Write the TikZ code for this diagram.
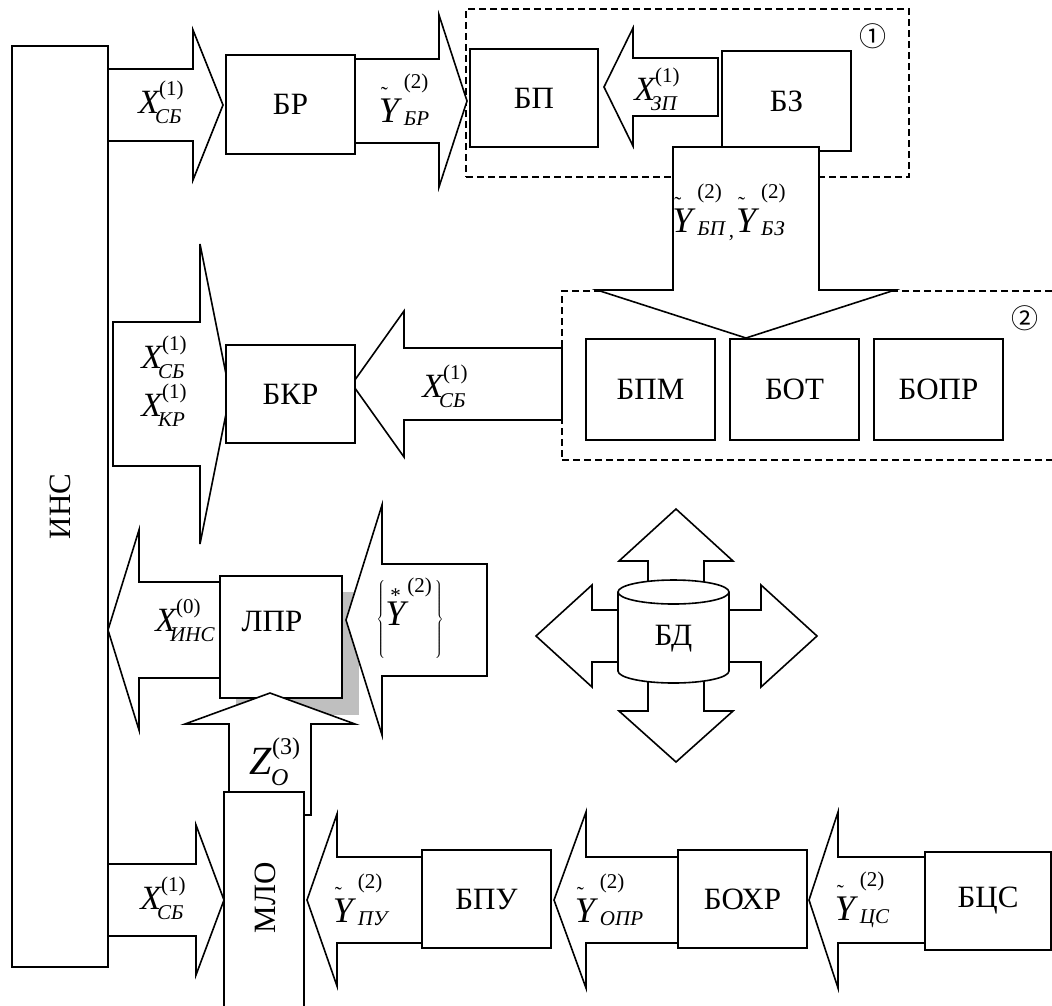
\documentclass[tikz,border=0pt]{standalone}
\usepackage{fontspec}
\setmainfont{Liberation Serif}
\newfontfamily\cjk{Noto Sans CJK SC}
\newcommand\mainfs{\fontsize{31}{37}\selectfont}
\newcommand\scr{\fontsize{21}{21}\selectfont}
% #1 raise of sup, #2 sup, #3 drop of sub, #4 kern of sub, #5 sub
\newcommand\SupSub[5]{{\setbox0\hbox{\raisebox{#1}{\upshape #2}}\setbox2\hbox{\kern#4\raisebox{-#3}{\itshape #5}}\ifdim\wd0>\wd2 \rlap{\box2}\box0\else\rlap{\box0}\box2\fi}}
\newcommand\XL[4]{\hbox{\fontsize{34}{34}\selectfont\itshape #1\scr\SupSub{18pt}{(#2)}{10pt}{#4}{#3}}}
\newcommand\YL[1]{\hbox{\fontsize{36}{36}\selectfont\itshape\rlap{\kern2pt\raisebox{21pt}{\scr\upshape ˜}}Y\kern5pt\scr\SupSub{34pt}{(2)}{3pt}{0pt}{#1}}}
\newcommand\HArrow[6]{\draw[blk] ({#1},{#4-#5}) -- ({#2},{#4-#5}) -- ({#2},{#4-#6}) -- ({#3},{#4}) -- ({#2},{#4+#6}) -- ({#2},{#4+#5}) -- ({#1},{#4+#5}) -- cycle;}
\newcommand\VArrow[6]{\draw[blk] ({#4-#5},{#1}) -- ({#4-#5},{#2}) -- ({#4-#6},{#2}) -- ({#4},{#3}) -- ({#4+#6},{#2}) -- ({#4+#5},{#2}) -- ({#4+#5},{#1}) -- cycle;}
\tikzset{
  blk/.style={draw, fill=white, line width=1.6pt},
  box/.style={draw, fill=white, line width=1.6pt, inner sep=0pt, outer sep=0pt, font=\mainfs},
  dbox/.style={draw, dash pattern=on 7pt off 4pt, line width=1.4pt, inner sep=0pt, outer sep=0pt},
  lbl/.style={inner sep=0pt, outer sep=0pt},
  txt/.style={inner sep=0pt, outer sep=0pt, font=\mainfs},
  circnum/.style={inner sep=0pt, outer sep=0pt, font=\cjk\fontsize{27}{27}\selectfont},
}
\begin{document}
\begin{tikzpicture}[x=1pt,y=-1pt]
\useasboundingbox (0,0) rectangle (1052,1005);
% ИНС
\node[box, minimum width=96pt, minimum height=921pt] (ins) at (60,506.5) {};
\node[txt, rotate=90] (inst) at (60,506.5) {ИНС};
% dashed groups
\node[dbox, minimum width=443pt, minimum height=168pt] (g1) at (687.5,93) {};
\node[dbox, minimum width=518pt, minimum height=169pt] (g2) at (821,375.5) {};
\node[circnum] (n1) at (873,36) {①};
\node[circnum] (n2) at (1025,318) {②};
% top row
\HArrow{108}{193}{223}{105}{36}{75}
\HArrow{355}{439}{467}{101}{42}{86}
\node[box, minimum width=129pt, minimum height=99pt] (br) at (290.5,104.5) {БР};
\node[box, minimum width=128pt, minimum height=98pt] (bp) at (534,98) {БП};
\HArrow{718}{633}{604}{87}{29}{59}
\node[box, minimum width=129pt, minimum height=100pt] (bz) at (786.5,101) {БЗ};
\VArrow{147}{290}{338}{746}{73}{149}
% middle row
\node[box, minimum width=129pt, minimum height=101pt] (bpm) at (650.5,389.5) {БПМ};
\node[box, minimum width=129pt, minimum height=101pt] (bot) at (794.5,389.5) {БОТ};
\node[box, minimum width=129pt, minimum height=101pt] (bopr) at (938.5,389.5) {БОПР};
\HArrow{562}{404}{352}{384}{36}{73}
\HArrow{113}{200}{230}{394}{72}{150}
\node[box, minimum width=129pt, minimum height=98pt] (bkr) at (290.5,394) {БКР};
% third row
\HArrow{230}{139}{108}{630}{48}{100}
\fill[gray!50] (236,592) rectangle (359,715);
\node[box, minimum width=122pt, minimum height=122pt] (lpr) at (281,637) {};
\node[txt] (lprt) at (272,621) {ЛПР};
\VArrow{815}{724}{693}{270}{41}{85}
\HArrow{487}{382}{346}{620}{56}{115}
% БД
\VArrow{585}{561}{509}{676}{28}{57}
\VArrow{680}{711}{762}{676}{28}{57}
\HArrow{625}{592}{536}{636}{26}{51}
\HArrow{722}{761}{817}{636}{26}{51}
\draw[blk] (618,592) -- (618,671) arc[start angle=180, end angle=0, x radius=55.5, y radius=12] -- (729,592);
\draw[blk] (673.5,592) ellipse[x radius=55.5, y radius=12];
\node[txt] (bd) at (673.5,639) {БД};
% bottom row
\HArrow{108}{196}{224}{900}{36}{75}
\HArrow{422}{337}{307}{900}{43}{86}
\HArrow{678}{586}{554}{900}{43}{88}
\HArrow{925}{838}{809}{900}{43}{88}
\node[box, minimum width=80pt, minimum height=228pt] (mlo) at (264,906) {};
\node[txt, rotate=90] (mlot) at (265,898) {МЛО};
\node[box, minimum width=129pt, minimum height=98pt] (bpu) at (486.5,899) {БПУ};
\node[box, minimum width=129pt, minimum height=98pt] (bohr) at (742.5,899) {БОХР};
\node[box, minimum width=126pt, minimum height=98pt] (bcs) at (988,901) {БЦС};
% labels
\node[lbl] (l1) at (161,102) {\XL{X}{1}{СБ}{-4pt}};
\node[lbl] (l2) at (404,100) {\YL{БР}};
\node[lbl] (l3) at (657,89) {\XL{X}{1}{ЗП}{-4pt}};
\node[lbl] (l4) at (729,212) {\YL{БП}\hbox{\scr\kern4pt\raisebox{-5pt}{,}\kern2pt}\YL{БЗ}};
\node[lbl] (l5) at (445,386) {\XL{X}{1}{СБ}{-4pt}};
\node[lbl] (l6) at (164,357) {\XL{X}{1}{СБ}{-4pt}};
\node[lbl] (l7) at (164,405) {\XL{X}{1}{КР}{-4pt}};
\node[lbl] (l8) at (185,620) {\XL{X}{0}{ИНС}{-6pt}};
\node[lbl] (l9) at (275,762) {\hbox{\fontsize{40}{40}\selectfont\itshape Z\fontsize{24}{24}\selectfont\SupSub{20pt}{(3)}{11pt}{-1pt}{O}}};
\node[lbl, font=\mainfs] (l10) at (410,618) {$\left\{\vrule height 47pt depth 30pt width 0pt\mbox{\fontsize{36}{36}\selectfont\itshape\rlap{\kern5pt\raisebox{23pt}{\scr\upshape *}}Y\kern2pt\raisebox{33pt}{\scr\upshape(2)}}\kern3pt\right\}$};
\node[lbl] (l11) at (163,898) {\XL{X}{1}{СБ}{-4pt}};
\node[lbl] (l12) at (360,900) {\YL{ПУ}};
\node[lbl] (l13) at (609,900) {\YL{ОПР}};
\node[lbl] (l14) at (862,900) {\YL{ЦС}};
\end{tikzpicture}
\end{document}
